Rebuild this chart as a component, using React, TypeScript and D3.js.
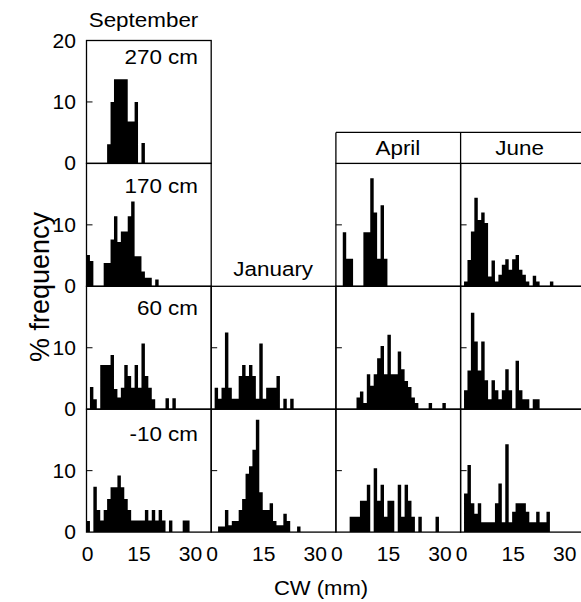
import React from 'react';
import * as d3 from 'd3';

// ---- data (percent frequency per 1-mm carapace-width bin, starting at 0 mm) ----
const months = ['September', 'January', 'April', 'June'];
const depths = ['270 cm', '170 cm', '60 cm', '-10 cm'];
const xTicks = [0, 15, 30];
const yTicksTop = [0, 10, 20];
const yTicks = [0, 10];

const sep270 = [0, 0, 0, 0, 0, 0, 3.1, 10, 13.7, 13.7, 13.7, 13.7, 6.8, 6.8, 10, 0, 3.3];
const sep170 = [5.1, 4.1, 0, 0, 0, 3.8, 3.8, 7.6, 11.4, 7.2, 8.9, 8.9, 11.4, 13.8, 4.9, 4.9, 2.4, 1.4, 1.4, 0, 1.1];
const sep60 = [0, 3.6, 1.6, 0, 7.2, 7.2, 7.2, 8.8, 3.3, 1.9, 3.5, 7.2, 5.4, 3.5, 7.2, 3.5, 10.7, 5.4, 3.5, 1.6, 0, 0, 0, 1.8, 0, 1.8];
const sepM10 = [1.8, 0, 7.4, 3.6, 1.9, 3.6, 5.4, 7.3, 7.3, 9.2, 7.3, 5.4, 3.6, 1.9, 1.9, 1.9, 1.9, 3.6, 1.9, 3.6, 1.9, 3.6, 1.9, 0, 1.9, 0, 0, 0, 1.9, 1.9];
const jan60 = [0, 3.5, 1.7, 3.5, 12.5, 3.5, 1.7, 1.7, 5.4, 7.2, 5.4, 7.2, 5.4, 1.7, 10.7, 1.7, 3.5, 3.5, 3.5, 5.4, 0, 1.7, 0, 1.7];
const janM10 = [0, 0, 0.9, 0.9, 3.6, 1.1, 1.8, 1.8, 3.6, 5.4, 9.5, 10.7, 13.4, 18.3, 6.5, 3.6, 3.6, 4.7, 1.8, 1.1, 1.1, 3.0, 1.8, 0, 0, 0.9];
const apr170 = [0, 0, 8.8, 4.5, 4.5, 0, 0, 0, 8.8, 8.8, 17.6, 12.0, 4.5, 13.2, 4.5];
const apr60 = [0, 0, 0, 0, 0, 0, 1.9, 2.9, 1.0, 5.7, 3.8, 5.7, 8.3, 10.3, 5.7, 12.1, 5.7, 5.7, 9.4, 6.5, 4.6, 3.6, 1.9, 1.0, 0, 0, 0, 1.0, 0, 0, 0, 1.0];
const aprM10 = [0, 0, 0, 0, 2.5, 2.5, 2.5, 5.1, 5.1, 7.7, 0, 10.4, 5.1, 7.7, 2.5, 5.1, 5.1, 0, 7.7, 2.5, 7.7, 5.1, 2.5, 0, 2.5, 0, 0, 0, 0, 2.5];
const jun170 = [0, 0.8, 4.3, 8.9, 14.4, 10.8, 12.0, 10.3, 1.6, 4.2, 0.8, 1.9, 3.5, 4.4, 2.7, 4.4, 5.1, 2.7, 1.9, 0.8, 0, 1.7, 0.8, 0, 0, 0, 0.8];
const jun60 = [0, 3.1, 6.3, 15.7, 11.0, 6.3, 11.0, 4.7, 1.6, 4.7, 3.1, 1.6, 3.1, 6.5, 3.1, 0, 7.9, 3.1, 1.6, 1.6, 0, 1.6, 1.6];
const junM10 = [0, 6.3, 10.9, 4.7, 3.0, 4.7, 1.6, 1.6, 1.6, 1.6, 4.7, 7.9, 1.6, 14.3, 1.6, 3.3, 4.7, 4.7, 4.7, 3.3, 1.6, 1.6, 3.3, 1.6, 1.6, 3.3];

const panels = [
  { col: 0, row: 0, values: sep270 },
  { col: 0, row: 1, values: sep170 },
  { col: 0, row: 2, values: sep60 },
  { col: 0, row: 3, values: sepM10 },
  { col: 1, row: 2, values: jan60 },
  { col: 1, row: 3, values: janM10 },
  { col: 2, row: 1, values: apr170 },
  { col: 2, row: 2, values: apr60 },
  { col: 2, row: 3, values: aprM10 },
  { col: 3, row: 1, values: jun170 },
  { col: 3, row: 2, values: jun60 },
  { col: 3, row: 3, values: junM10 },
];

// ---- layout ----
const W = 581, H = 602;
const COL0 = 86.5, COLW = 124.7;
const ROW0 = 40.5, ROWH = 122.9;
const XMAX = 36.3;
const FONT = "'Liberation Sans', Arial, Helvetica, sans-serif";
const SX = 1.15; // horizontal stretch of the lettering in the reference
const depthBase = [23.5, 30, 28.5, 31.5];

const colLeft = (c: number) => COL0 + c * COLW;
const rowTop = (r: number) => ROW0 + r * ROWH;

function Txt({ x, y, size, anchor = 'middle', rotate = 0, sx = SX, children }: any) {
  const tr = rotate
    ? `translate(${x},${y}) rotate(${rotate})`
    : `translate(${x},${y}) scale(${sx},1)`;
  return (
    <text transform={tr} fontSize={size} textAnchor={anchor} fill="#000" fontFamily={FONT}>
      {children}
    </text>
  );
}

export default function App() {
  const xs = [0, 1, 2, 3].map((c) =>
    d3.scaleLinear().domain([0, XMAX]).range([colLeft(c), colLeft(c) + COLW])
  );
  const ys = [0, 1, 2, 3].map((r) =>
    d3.scaleLinear().domain([0, 20]).range([rowTop(r) + ROWH, rowTop(r)])
  );

  return (
    <svg width={W} height={H} style={{ position: 'absolute', left: 0, top: 0, background: '#fff' }}>
      <rect x={0} y={0} width={W} height={H} fill="#fff" />
      {/* histograms: one stepped area per panel */}
      {panels.map((p, i) => {
        const x = xs[p.col];
        const y = ys[p.row];
        const pts: [number, number][] = p.values.map((v, k) => [k, v]);
        pts.push([p.values.length, 0]);
        const area = d3
          .area<[number, number]>()
          .x((d) => x(d[0]))
          .y0(y(0))
          .y1((d) => y(d[1]))
          .curve(d3.curveStepAfter);
        return <path key={'b' + i} d={area(pts) || ''} fill="#000" />;
      })}
      {/* panel frames */}
      {panels.map((p, i) => {
        const x = xs[p.col];
        const y = ys[p.row];
        return (
          <g key={'f' + i}>
            <rect x={x(0)} y={y(20)} width={x(XMAX) - x(0)} height={y(0) - y(20)} fill="none" stroke="#000" strokeWidth={1.3} />
            <line x1={x(0)} x2={x(0) + 6} y1={y(10)} y2={y(10)} stroke="#000" strokeWidth={1} />
          </g>
        );
      })}
      {/* April / June header strip */}
      <line x1={colLeft(2)} x2={W} y1={rowTop(1) - 31} y2={rowTop(1) - 31} stroke="#000" strokeWidth={1.3} />
      <line x1={colLeft(2)} x2={colLeft(2)} y1={rowTop(1) - 31} y2={rowTop(1)} stroke="#000" strokeWidth={1.3} />
      <line x1={colLeft(3)} x2={colLeft(3)} y1={rowTop(1) - 31} y2={rowTop(1)} stroke="#000" strokeWidth={1.3} />

      {/* column titles */}
      <Txt x={colLeft(0) + 57} y={27} size={19.5}>{months[0]}</Txt>
      <Txt x={colLeft(1) + 62} y={276} size={19.5}>{months[1]}</Txt>
      <Txt x={colLeft(2) + 62} y={155} size={19.5}>{months[2]}</Txt>
      <Txt x={colLeft(3) + 59} y={155} size={19.5}>{months[3]}</Txt>

      {/* depth labels */}
      {depths.map((d, r) => (
        <Txt key={d} x={198} y={rowTop(r) + depthBase[r]} size={19.5} anchor="end">{d}</Txt>
      ))}

      {/* y tick labels */}
      {[0, 1, 2, 3].map((r) =>
        (r === 0 ? yTicksTop : yTicks).map((t) => (
          <Txt key={r + '-' + t} x={76} y={ys[r](t) + 7} size={19.5} anchor="end" sx={1.08}>{String(t)}</Txt>
        ))
      )}

      {/* x tick labels */}
      {[0, 1, 2, 3].map((c) =>
        xTicks.map((t) => (
          <Txt key={c + '-' + t} x={xs[c](t) + 1} y={561} size={19.5} sx={1.08}>{String(t)}</Txt>
        ))
      )}

      {/* axis titles */}
      <Txt x={49} y={287} size={27} rotate={-90}>% frequency</Txt>
      <Txt x={321} y={595} size={21} sx={1.05}>CW (mm)</Txt>
    </svg>
  );
}
